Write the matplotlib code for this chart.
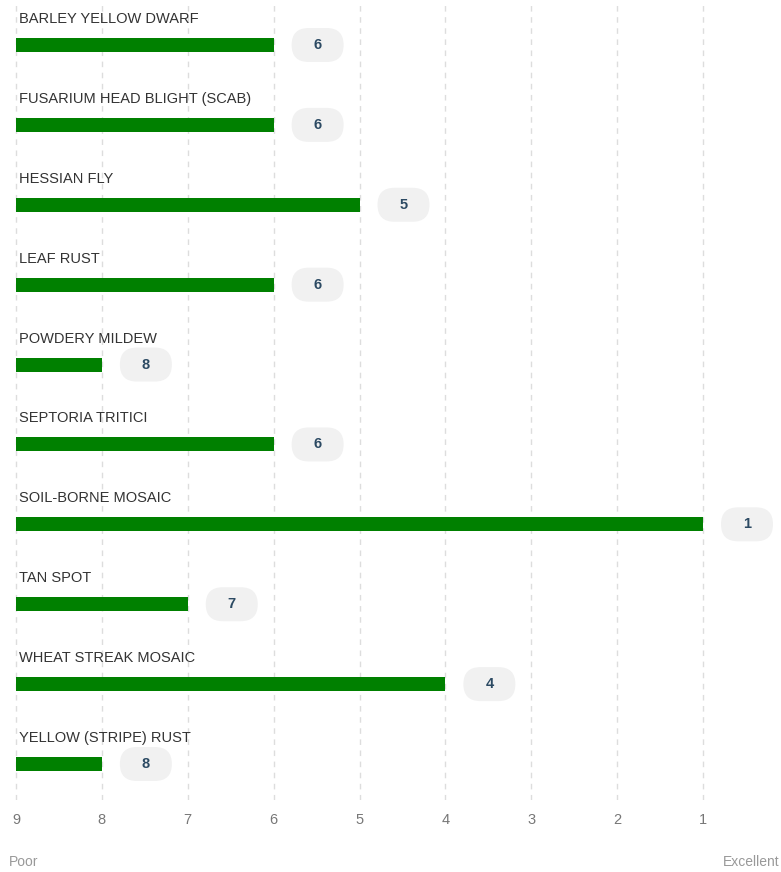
import matplotlib
matplotlib.use("Agg")
import matplotlib.pyplot as plt
from matplotlib.patches import FancyBboxPatch

diseases = ["BARLEY YELLOW DWARF", "FUSARIUM HEAD BLIGHT (SCAB)", "HESSIAN FLY",
            "LEAF RUST", "POWDERY MILDEW", "SEPTORIA TRITICI", "SOIL-BORNE MOSAIC",
            "TAN SPOT", "WHEAT STREAK MOSAIC", "YELLOW (STRIPE) RUST"]
ratings = [6, 6, 5, 6, 8, 6, 1, 7, 4, 8]
ticks = [9, 8, 7, 6, 5, 4, 3, 2, 1]

plt.rcParams['font.family'] = ['Liberation Sans', 'DejaVu Sans']

W, H = 781, 872
fig = plt.figure(figsize=(W / 100, H / 100), dpi=100)
ax_top, ax_bot = 0, 800
ax = fig.add_axes([0, (H - ax_bot) / H, 1, (ax_bot - ax_top) / H])

px_x = (703 - 16) / 8.0      # pixels per unit in x
px_y = (764 - 45) / 9.0      # pixels per row
ax.set_xlim(9 + 16 / px_x, 1 - (W - 703) / px_x)
ax.set_ylim(9 + (ax_bot - 764) / px_y, -(45 - ax_top) / px_y)

for x in ticks:
    ax.axvline(x, color="#dddddd", lw=1, ls=(0, (4, 4)), zorder=0)

green = "#008000"
bar_h = 14 / px_y
for i, (name, v) in enumerate(zip(diseases, ratings)):
    ax.barh(i, v - 9, left=9, height=bar_h, color=green, zorder=2)
    ax.text(9 - 3 / px_x, i - 26 / px_y, name, fontsize=10.5, color="#333333",
            va="center", ha="left", zorder=3)
    cx = v - 44 / px_x
    bw, bh = 52 / px_x, 34 / px_y
    badge = FancyBboxPatch((cx - bw / 2, i - bh / 2), bw, bh,
                           boxstyle="round,pad=0,rounding_size=%f" % (17 / px_x),
                           mutation_aspect=px_x / px_y,
                           facecolor="#f1f1f1", edgecolor="none", zorder=2)
    ax.add_patch(badge)
    ax.text(cx, i, str(v), fontsize=10.5, fontweight="bold", color="#2c4a63",
            ha="center", va="center", zorder=3)

ax.set_xticks(ticks)
ax.set_xticklabels([str(t) for t in ticks], fontsize=10.5, color="#777777")
ax.tick_params(axis="x", length=0, pad=9)
ax.set_yticks([])
for s in ax.spines.values():
    s.set_visible(False)

fig.text(9 / W, 1 - 862 / H, "Poor", fontsize=10, color="#999999", ha="left", va="center")
fig.text(1 - 1 / W, 1 - 862 / H, "Excellent", fontsize=10, color="#999999", ha="right", va="center")

fig.savefig("out.png", dpi=100)
